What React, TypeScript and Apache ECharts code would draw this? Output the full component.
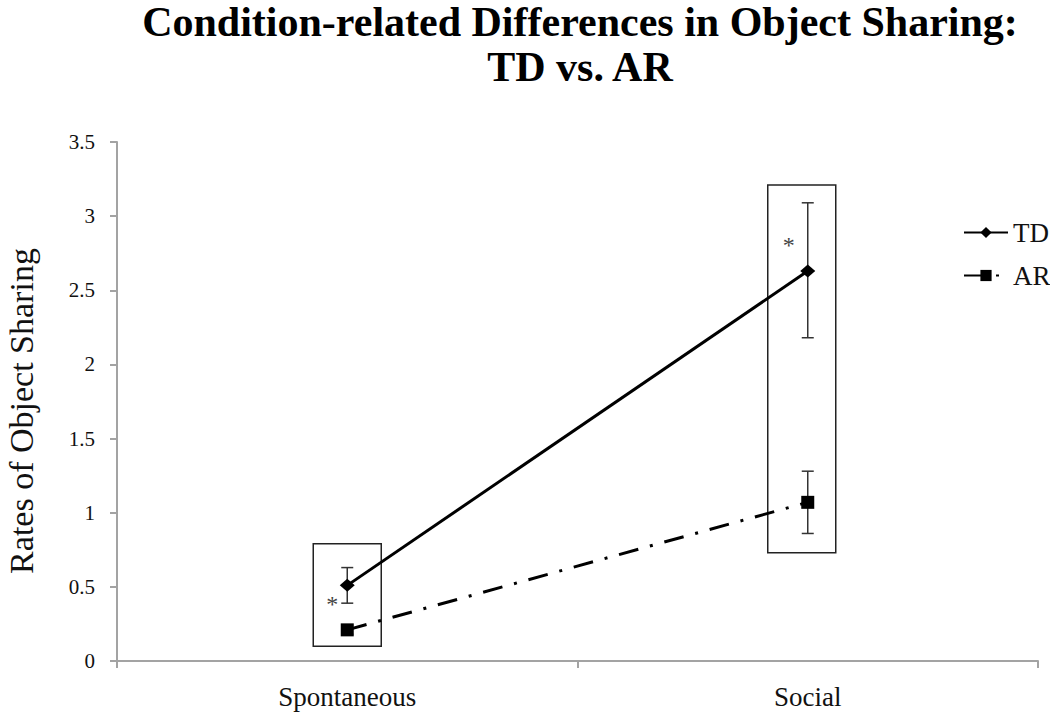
import React, { useEffect, useRef } from "react";
import * as echarts from "echarts";

const categories = ["Spontaneous", "Social"];
const tdMeans = [0.51, 2.63];
const tdLow = [0.39, 2.18];
const tdHigh = [0.63, 3.09];
const arMeans = [0.21, 1.07];
const arLow = [0.18, 0.86];
const arHigh = [0.24, 1.28];
const boxLow = [0.1, 0.73];
const boxHigh = [0.79, 3.21];
const starY = [0.42, 2.84];
const titleLines = ["Condition-related Differences in Object Sharing:", "TD vs. AR"];
const yAxisName = "Rates of Object Sharing";

const SERIF = '"Liberation Serif", "Times New Roman", serif';
const AXIS_GRAY = "#a3a3a3";
const BOX_DX = [0, -6];
const BOX_W = 68;
const STAR_DX = [-15, -19];

export default function App() {
  const ref = useRef<HTMLDivElement>(null);
  useEffect(() => {
    if (!ref.current) return;
    const chart = echarts.init(ref.current, undefined, { renderer: "svg" });

    const errData = [
      ...tdLow.map((lo, i) => [i, lo, tdHigh[i]]),
      ...arLow.map((lo, i) => [i, lo, arHigh[i]]),
    ];
    const boxData = boxLow.map((lo, i) => [i, lo, boxHigh[i]]);
    const starData = starY.map((y, i) => [i, y]);

    chart.setOption({
      animation: false,
      backgroundColor: "#fff",
      graphic: [
        {
          type: "text",
          x: 580,
          y: 22,
          style: {
            text: titleLines[0],
            font: `bold 42px ${SERIF}`,
            fill: "#000",
            align: "center",
            verticalAlign: "middle",
          },
        },
        {
          type: "text",
          x: 580,
          y: 67,
          style: {
            text: titleLines[1],
            font: `bold 42px ${SERIF}`,
            fill: "#000",
            align: "center",
            verticalAlign: "middle",
          },
        },
        {
          type: "text",
          x: 21,
          y: 411,
          rotation: Math.PI / 2,
          style: {
            text: yAxisName,
            font: `34px ${SERIF}`,
            fill: "#111",
            align: "center",
            verticalAlign: "middle",
          },
        },
      ],
      legend: {
        data: ["TD", "AR"],
        orient: "vertical",
        left: 958,
        top: 214,
        itemWidth: 44,
        itemHeight: 14,
        itemGap: 16,
        textStyle: { fontFamily: SERIF, fontSize: 27, color: "#111" },
      },
      grid: {
        left: 117,
        right: 12,
        top: 142,
        bottom: 61,
        containLabel: false,
        outerBoundsMode: "none",
      },
      xAxis: {
        type: "category",
        data: categories,
        axisLine: { show: true, lineStyle: { color: AXIS_GRAY, width: 2 } },
        axisTick: { show: true, length: 7, lineStyle: { color: AXIS_GRAY, width: 2 } },
        axisLabel: { fontFamily: SERIF, fontSize: 27, color: "#111", margin: 22 },
        splitLine: { show: false },
      },
      yAxis: {
        type: "value",
        min: 0,
        max: 3.5,
        interval: 0.5,
        axisLine: { show: true, lineStyle: { color: AXIS_GRAY, width: 2 } },
        axisTick: { show: true, length: 7, lineStyle: { color: AXIS_GRAY, width: 2 } },
        axisLabel: { fontFamily: SERIF, fontSize: 21, color: "#111", margin: 22 },
        splitLine: { show: false },
      },
      series: [
        {
          type: "custom",
          name: "boxes",
          data: boxData,
          z: 1,
          renderItem: (params: any, api: any) => {
            const i = api.value(0);
            const top = api.coord([i, api.value(2)]);
            const bot = api.coord([i, api.value(1)]);
            const cx = top[0] + BOX_DX[params.dataIndex];
            return {
              type: "rect",
              shape: { x: cx - BOX_W / 2, y: top[1], width: BOX_W, height: bot[1] - top[1] },
              style: { fill: "none", stroke: "#222", lineWidth: 1.5 },
            };
          },
        },
        {
          type: "custom",
          name: "errors",
          data: errData,
          z: 2,
          renderItem: (params: any, api: any) => {
            const i = api.value(0);
            const lo = api.coord([i, api.value(1)]);
            const hi = api.coord([i, api.value(2)]);
            const cx = lo[0];
            const cap = 6;
            const st = { stroke: "#333", lineWidth: 1.5 };
            return {
              type: "group",
              children: [
                { type: "line", shape: { x1: cx, y1: lo[1], x2: cx, y2: hi[1] }, style: st },
                { type: "line", shape: { x1: cx - cap, y1: lo[1], x2: cx + cap, y2: lo[1] }, style: st },
                { type: "line", shape: { x1: cx - cap, y1: hi[1], x2: cx + cap, y2: hi[1] }, style: st },
              ],
            };
          },
        },
        {
          type: "custom",
          name: "stars",
          data: starData,
          z: 2,
          renderItem: (params: any, api: any) => {
            const p = api.coord([api.value(0), api.value(1)]);
            return {
              type: "text",
              x: p[0] + STAR_DX[params.dataIndex],
              y: p[1] + 5,
              style: {
                text: "*",
                font: `24px ${SERIF}`,
                fill: "#444",
                align: "center",
                verticalAlign: "middle",
              },
            };
          },
        },
        {
          type: "line",
          name: "TD",
          data: tdMeans,
          symbol: "diamond",
          symbolSize: [15, 13],
          z: 5,
          lineStyle: { color: "#000", width: 3 },
          itemStyle: { color: "#000" },
        },
        {
          type: "line",
          name: "AR",
          data: arMeans,
          symbol: "rect",
          symbolSize: 13,
          z: 5,
          lineStyle: { color: "#000", width: 3, type: [20, 12, 3, 12] },
          itemStyle: { color: "#000" },
        },
      ],
    });
    return () => chart.dispose();
  }, []);
  return (
    <div
      ref={ref}
      style={{ position: "fixed", left: 0, top: 0, width: 1050, height: 722 }}
    />
  );
}
